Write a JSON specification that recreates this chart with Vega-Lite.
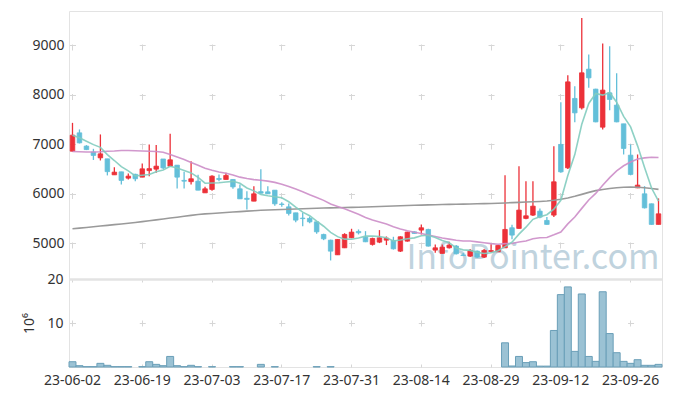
{
  "$schema": "https://vega.github.io/schema/vega-lite/v6.json",
  "background": "white",
  "padding": {"left": 22, "right": 11, "top": 10, "bottom": 0},
  "spacing": 0,
  "bounds": "flush",
  "config": {
    "view": {"stroke": "#e3e3e3"},
    "axis": {"labelFont": "Noto Sans", "labelFontSize": 14, "labelColor": "#333333", "titleFont": "Noto Sans"}
  },
  "data": {"values": [
    {"d":"23-06-02","o":6858,"h":7430,"l":6850,"c":7182,"v":1.2,"m5":7182,"m20":6850,"m120":5289},
    {"d":"23-06-05","o":7228,"h":7297,"l":7014,"c":7026,"v":0.3,"m5":7130,"m20":6845,"m120":5303},
    {"d":"23-06-07","o":6960,"h":6980,"l":6880,"c":6890,"v":0.08,"m5":7060,"m20":6840,"m120":5317},
    {"d":"23-06-08","o":6838,"h":6905,"l":6680,"c":6772,"v":0.08,"m5":6990,"m20":6840,"m120":5331},
    {"d":"23-06-09","o":6723,"h":7196,"l":6670,"c":6804,"v":0.83,"m5":6935,"m20":6845,"m120":5345},
    {"d":"23-06-12","o":6703,"h":6703,"l":6368,"c":6444,"v":0.38,"m5":6787,"m20":6855,"m120":5359},
    {"d":"23-06-13","o":6380,"h":6535,"l":6380,"c":6434,"v":0.08,"m5":6669,"m20":6860,"m120":5373},
    {"d":"23-06-14","o":6440,"h":6440,"l":6186,"c":6267,"v":0.08,"m5":6544,"m20":6870,"m120":5387},
    {"d":"23-06-15","o":6313,"h":6408,"l":6287,"c":6353,"v":0.08,"m5":6460,"m20":6870,"m120":5400},
    {"d":"23-06-16","o":6390,"h":6400,"l":6250,"c":6300,"v":0,"m5":6360,"m20":6865,"m120":5416},
    {"d":"23-06-19","o":6333,"h":6610,"l":6333,"c":6501,"v":0.08,"m5":6371,"m20":6860,"m120":5434},
    {"d":"23-06-20","o":6465,"h":6994,"l":6353,"c":6505,"v":1.2,"m5":6385,"m20":6855,"m120":5452},
    {"d":"23-06-21","o":6495,"h":6980,"l":6420,"c":6555,"v":0.6,"m5":6443,"m20":6850,"m120":5470},
    {"d":"23-06-22","o":6700,"h":6700,"l":6500,"c":6520,"v":0.3,"m5":6476,"m20":6835,"m120":5488},
    {"d":"23-06-23","o":6555,"h":7208,"l":6555,"c":6683,"v":2.4,"m5":6553,"m20":6790,"m120":5506},
    {"d":"23-06-26","o":6575,"h":6575,"l":6105,"c":6333,"v":0.3,"m5":6519,"m20":6740,"m120":5524},
    {"d":"23-06-27","o":6267,"h":6444,"l":6105,"c":6252,"v":0.08,"m5":6469,"m20":6690,"m120":5542},
    {"d":"23-06-28","o":6242,"h":6656,"l":6186,"c":6300,"v":0.38,"m5":6418,"m20":6630,"m120":5560},
    {"d":"23-06-29","o":6252,"h":6380,"l":6070,"c":6070,"v":0.08,"m5":6328,"m20":6575,"m120":5578},
    {"d":"23-06-30","o":6016,"h":6140,"l":6016,"c":6097,"v":0,"m5":6210,"m20":6514,"m120":5590},
    {"d":"23-07-03","o":6085,"h":6370,"l":6060,"c":6353,"v":0.08,"m5":6214,"m20":6473,"m120":5600},
    {"d":"23-07-04","o":6306,"h":6388,"l":6252,"c":6286,"v":0,"m5":6221,"m20":6436,"m120":5610},
    {"d":"23-07-05","o":6286,"h":6420,"l":6286,"c":6367,"v":0,"m5":6235,"m20":6410,"m120":5619},
    {"d":"23-07-06","o":6286,"h":6290,"l":6097,"c":6137,"v":0.08,"m5":6248,"m20":6378,"m120":5628},
    {"d":"23-07-07","o":6097,"h":6186,"l":5895,"c":5895,"v":0.08,"m5":6208,"m20":6333,"m120":5637},
    {"d":"23-07-10","o":5905,"h":6050,"l":5680,"c":5885,"v":0,"m5":6114,"m20":6305,"m120":5646},
    {"d":"23-07-11","o":5848,"h":6151,"l":5848,"c":5996,"v":0,"m5":6056,"m20":6283,"m120":5655},
    {"d":"23-07-12","o":6040,"h":6490,"l":5996,"c":6010,"v":0.6,"m5":5985,"m20":6270,"m120":5664},
    {"d":"23-07-13","o":6036,"h":6150,"l":5990,"c":5996,"v":0,"m5":5956,"m20":6252,"m120":5670},
    {"d":"23-07-14","o":6070,"h":6070,"l":5754,"c":5794,"v":0.08,"m5":5936,"m20":6227,"m120":5675},
    {"d":"23-07-17","o":5790,"h":5828,"l":5733,"c":5780,"v":0,"m5":5915,"m20":6191,"m120":5680},
    {"d":"23-07-18","o":5733,"h":5800,"l":5560,"c":5600,"v":0,"m5":5836,"m20":6145,"m120":5685},
    {"d":"23-07-19","o":5612,"h":5612,"l":5420,"c":5465,"v":0,"m5":5727,"m20":6091,"m120":5690},
    {"d":"23-07-20","o":5505,"h":5612,"l":5343,"c":5495,"v":0,"m5":5627,"m20":6040,"m120":5695},
    {"d":"23-07-21","o":5499,"h":5540,"l":5400,"c":5430,"v":0,"m5":5554,"m20":5977,"m120":5700},
    {"d":"23-07-24","o":5430,"h":5430,"l":5188,"c":5228,"v":0.08,"m5":5444,"m20":5922,"m120":5705},
    {"d":"23-07-25","o":5175,"h":5190,"l":5060,"c":5087,"v":0,"m5":5341,"m20":5864,"m120":5710},
    {"d":"23-07-26","o":5060,"h":5070,"l":4650,"c":4838,"v":0.08,"m5":5216,"m20":5790,"m120":5713},
    {"d":"23-07-27","o":4764,"h":5080,"l":4760,"c":5074,"v":0,"m5":5131,"m20":5741,"m120":5716},
    {"d":"23-07-28","o":4905,"h":5200,"l":4900,"c":5175,"v":0,"m5":5080,"m20":5695,"m120":5719},
    {"d":"23-07-31","o":5107,"h":5290,"l":5100,"c":5222,"v":0,"m5":5079,"m20":5638,"m120":5722},
    {"d":"23-08-01","o":5236,"h":5276,"l":5175,"c":5209,"v":0,"m5":5104,"m20":5584,"m120":5726},
    {"d":"23-08-02","o":5121,"h":5242,"l":5020,"c":5027,"v":0,"m5":5141,"m20":5517,"m120":5730},
    {"d":"23-08-03","o":4974,"h":5110,"l":4950,"c":5094,"v":0,"m5":5145,"m20":5465,"m120":5735},
    {"d":"23-08-04","o":5020,"h":5263,"l":5000,"c":5107,"v":0,"m5":5132,"m20":5426,"m120":5740},
    {"d":"23-08-07","o":5060,"h":5135,"l":4960,"c":5100,"v":0,"m5":5107,"m20":5386,"m120":5745},
    {"d":"23-08-08","o":5054,"h":5128,"l":4870,"c":4885,"v":0,"m5":5043,"m20":5331,"m120":5750},
    {"d":"23-08-09","o":4838,"h":5140,"l":4820,"c":5128,"v":0,"m5":5063,"m20":5287,"m120":5755},
    {"d":"23-08-10","o":5040,"h":5230,"l":5030,"c":5222,"v":0,"m5":5088,"m20":5248,"m120":5759},
    {"d":"23-08-11","o":5228,"h":5240,"l":5190,"c":5195,"v":0,"m5":5106,"m20":5218,"m120":5764},
    {"d":"23-08-14","o":5263,"h":5378,"l":5175,"c":5310,"v":0,"m5":5148,"m20":5195,"m120":5768},
    {"d":"23-08-16","o":5276,"h":5290,"l":4930,"c":4940,"v":0,"m5":5159,"m20":5162,"m120":5772},
    {"d":"23-08-17","o":4859,"h":4973,"l":4804,"c":4905,"v":0,"m5":5114,"m20":5134,"m120":5776},
    {"d":"23-08-18","o":4792,"h":4974,"l":4790,"c":4919,"v":0,"m5":5054,"m20":5105,"m120":5779},
    {"d":"23-08-21","o":4905,"h":5026,"l":4890,"c":4960,"v":0,"m5":5007,"m20":5081,"m120":5782},
    {"d":"23-08-22","o":4940,"h":4960,"l":4770,"c":4785,"v":0,"m5":4902,"m20":5059,"m120":5785},
    {"d":"23-08-23","o":4760,"h":4800,"l":4740,"c":4750,"v":0,"m5":4864,"m20":5042,"m120":5788},
    {"d":"23-08-24","o":4737,"h":4880,"l":4720,"c":4852,"v":0,"m5":4853,"m20":5043,"m120":5791},
    {"d":"23-08-25","o":4838,"h":4850,"l":4700,"c":4717,"v":0,"m5":4813,"m20":5025,"m120":5794},
    {"d":"23-08-28","o":4717,"h":4880,"l":4700,"c":4852,"v":0,"m5":4791,"m20":5009,"m120":5797},
    {"d":"23-08-29","o":4830,"h":4975,"l":4810,"c":4850,"v":0,"m5":4804,"m20":4990,"m120":5800},
    {"d":"23-08-30","o":4825,"h":4960,"l":4820,"c":4953,"v":0,"m5":4845,"m20":4978,"m120":5806},
    {"d":"23-08-31","o":4905,"h":6373,"l":4900,"c":5276,"v":5.5,"m5":4930,"m20":4990,"m120":5812},
    {"d":"23-09-01","o":5310,"h":5370,"l":5080,"c":5162,"v":0.23,"m5":5019,"m20":4993,"m120":5818},
    {"d":"23-09-04","o":5297,"h":6555,"l":5290,"c":5667,"v":2.4,"m5":5182,"m20":5021,"m120":5824},
    {"d":"23-09-05","o":5499,"h":6252,"l":5480,"c":5552,"v":1.0,"m5":5322,"m20":5044,"m120":5830},
    {"d":"23-09-06","o":5566,"h":6252,"l":5550,"c":5747,"v":1.2,"m5":5481,"m20":5087,"m120":5836},
    {"d":"23-09-07","o":5646,"h":5700,"l":5500,"c":5525,"v":0.2,"m5":5531,"m20":5107,"m120":5842},
    {"d":"23-09-08","o":5458,"h":5530,"l":5370,"c":5378,"v":0.2,"m5":5574,"m20":5115,"m120":5850},
    {"d":"23-09-11","o":5566,"h":6959,"l":5530,"c":6239,"v":8.3,"m5":5688,"m20":5167,"m120":5865},
    {"d":"23-09-12","o":6993,"h":7848,"l":6420,"c":6440,"v":16.45,"m5":5866,"m20":5223,"m120":5885},
    {"d":"23-09-13","o":6521,"h":8394,"l":6500,"c":8258,"v":18.2,"m5":6368,"m20":5389,"m120":5910},
    {"d":"23-09-14","o":7923,"h":8171,"l":7444,"c":7632,"v":3.55,"m5":6789,"m20":5526,"m120":5945},
    {"d":"23-09-15","o":7733,"h":9551,"l":7700,"c":8440,"v":16.6,"m5":7402,"m20":5702,"m120":5985},
    {"d":"23-09-18","o":8515,"h":8811,"l":8137,"c":8339,"v":2.4,"m5":7822,"m20":5871,"m120":6025},
    {"d":"23-09-19","o":8111,"h":8120,"l":7440,"c":7450,"v":1.28,"m5":8024,"m20":6004,"m120":6060},
    {"d":"23-09-20","o":7343,"h":9034,"l":7297,"c":8091,"v":17.1,"m5":7990,"m20":6171,"m120":6085},
    {"d":"23-09-21","o":8036,"h":8979,"l":7687,"c":7903,"v":7.6,"m5":8045,"m20":6324,"m120":6105},
    {"d":"23-09-22","o":7788,"h":8434,"l":7440,"c":7450,"v":3.25,"m5":7847,"m20":6460,"m120":6120},
    {"d":"23-09-25","o":7410,"h":7410,"l":6791,"c":6913,"v":1.28,"m5":7561,"m20":6563,"m120":6130},
    {"d":"23-09-26","o":6777,"h":6994,"l":6370,"c":6388,"v":0.83,"m5":7349,"m20":6640,"m120":6133},
    {"d":"23-09-27","o":6117,"h":6791,"l":6110,"c":6172,"v":1.66,"m5":6965,"m20":6701,"m120":6130},
    {"d":"23-10-04","o":5996,"h":6151,"l":5700,"c":5713,"v":0.38,"m5":6527,"m20":6723,"m120":6118},
    {"d":"23-10-05","o":5794,"h":5800,"l":5370,"c":5378,"v":0.38,"m5":6113,"m20":6734,"m120":6102},
    {"d":"23-10-06","o":5378,"h":5903,"l":5378,"c":5592,"v":0.6,"m5":5849,"m20":6730,"m120":6085}
  ]},
  "vconcat": [
    {
      "width": 593,
      "height": 268,
      "encoding": {
        "x": {"field": "d", "type": "ordinal",
          "scale": {"paddingInner": 0.35, "paddingOuter": 0.175},
          "axis": {"values": ["23-06-02","23-06-19","23-07-03","23-07-17","23-07-31","23-08-14","23-08-29","23-09-12","23-09-26"],
            "labels": false, "ticks": false, "domain": false, "title": null,
            "grid": true, "gridColor": "#d6d6d6", "gridDash": [6, 43.5], "gridDashOffset": 16.5}}
      },
      "layer": [
        {
          "data": {"values": [{"t": "InfoPointer.com"}]},
          "mark": {"type": "text", "font": "Noto Sans CJK KR", "fontSize": 34, "color": "#c0d3de", "baseline": "alphabetic", "align": "center"},
          "encoding": {
            "x": {"datum": "23-09-06", "type": "ordinal"},
            "y": {"datum": 4480, "type": "quantitative",
              "scale": {"domain": [4275, 9690], "nice": false, "zero": false},
              "axis": {"values": [5000, 6000, 7000, 8000, 9000], "format": "d", "ticks": false, "domain": false, "labelPadding": 5, "title": null,
                "grid": true, "gridColor": "#d6d6d6", "gridDash": [6, 63.76], "gridDashOffset": 69.27}},
            "text": {"field": "t"}
          }
        },
        {
          "mark": {"type": "rule", "strokeWidth": 1.3},
          "encoding": {
            "y": {"field": "l", "type": "quantitative"},
            "y2": {"field": "h"},
            "color": {"condition": {"test": "datum.c >= datum.o", "value": "#ec3139"}, "value": "#63bfd9"}
          }
        },
        {
          "mark": {"type": "bar", "strokeWidth": 0.8},
          "encoding": {
            "y": {"field": "o", "type": "quantitative"},
            "y2": {"field": "c"},
            "color": {"condition": {"test": "datum.c >= datum.o", "value": "#ec3139"}, "value": "#63bfd9"},
            "stroke": {"condition": {"test": "datum.c >= datum.o", "value": "#ec3139"}, "value": "#63bfd9"}
          }
        },
        {
          "mark": {"type": "line", "color": "#9a9a9a", "strokeWidth": 1.6},
          "encoding": {"y": {"field": "m120", "type": "quantitative"}}
        },
        {
          "mark": {"type": "line", "color": "#cc8dc8", "strokeWidth": 1.6, "opacity": 0.9},
          "encoding": {"y": {"field": "m20", "type": "quantitative"}}
        },
        {
          "mark": {"type": "line", "color": "#82ccbf", "strokeWidth": 1.6, "opacity": 0.9},
          "encoding": {"y": {"field": "m5", "type": "quantitative"}}
        }
      ]
    },
    {
      "width": 593,
      "height": 88,
      "mark": {"type": "bar", "fill": "#9bc2d4", "stroke": "#6a9fb8", "strokeWidth": 1},
      "encoding": {
        "x": {"field": "d", "type": "ordinal",
          "scale": {"paddingInner": 0, "paddingOuter": 0},
          "axis": {"values": ["23-06-02","23-06-19","23-07-03","23-07-17","23-07-31","23-08-14","23-08-29","23-09-12","23-09-26"],
            "labelAngle": 0, "labelOverlap": false, "ticks": false, "domain": false, "labelPadding": 6, "title": null,
            "grid": true, "gridColor": "#d6d6d6", "gridDash": [6, 38], "gridDashOffset": 3}},
        "y": {"field": "v", "type": "quantitative",
          "scale": {"domain": [0, 20], "nice": false},
          "axis": {"values": [10, 20], "ticks": false, "domain": false, "labelPadding": 6,
            "title": "10⁶", "titleFontSize": 14, "titleFontWeight": "normal", "titleColor": "#333333", "titlePadding": 10,
            "grid": true,
            "gridColor": {"condition": {"test": "datum.value == 20", "value": "#e3e3e3"}, "value": "#d6d6d6"},
            "gridWidth": {"condition": {"test": "datum.value == 20", "value": 2.5}, "value": 1},
            "gridDash": {"condition": {"test": "datum.value == 20", "value": [1, 0]}, "value": [6, 63.76]},
            "gridDashOffset": {"condition": {"test": "datum.value == 20", "value": 0}, "value": 69.27}}},
        "strokeOpacity": {"condition": {"test": "datum.v > 0", "value": 1}, "value": 0}
      }
    }
  ]
}
